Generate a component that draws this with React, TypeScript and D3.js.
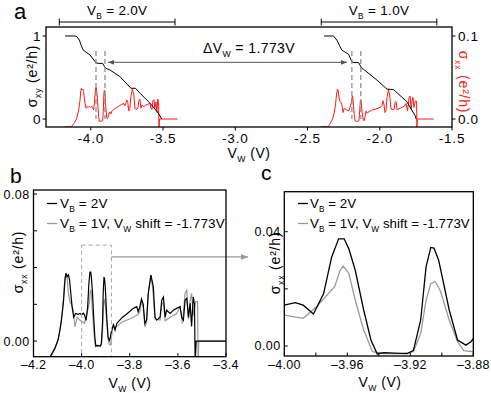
import React from 'react'
import { scaleLinear, line } from 'd3'

// ---- data ----
const shiftVW = 1.773

// sigma_xy, V_B = 2.0V  [V_W, e^2/h]
const sxyVB2: [number, number][] = [
  [-4.178, 1.0], [-4.109, 1.0], [-4.095, 0.99], [-4.079, 0.95], [-4.065, 0.88], [-4.052, 0.83],
  [-4.005, 0.77], [-3.97, 0.69], [-3.958, 0.672], [-3.948, 0.67], [-3.918, 0.67], [-3.905, 0.63],
  [-3.894, 0.61], [-3.867, 0.59], [-3.798, 0.51], [-3.722, 0.37], [-3.69, 0.37], [-3.659, 0.31],
  [-3.59, 0.19], [-3.532, 0.07], [-3.509, 0.0],
]
// sigma_xy, V_B = 1.0V
const sxyVB1: [number, number][] = [
  [-2.385, 1.0], [-2.32, 1.0], [-2.297, 0.95], [-2.263, 0.83], [-2.216, 0.78], [-2.193, 0.69],
  [-2.18, 0.68], [-2.147, 0.68], [-2.124, 0.61], [-2.113, 0.6], [-2.02, 0.47], [-1.95, 0.36],
  [-1.905, 0.355], [-1.813, 0.21], [-1.755, 0.04], [-1.748, 0.0],
]
// sigma_xx, V_B = 2V
const sxxVB2: [number, number][] = [
  [-4.18, -0.0095], [-4.135, -0.0095], [-4.12, -0.006], [-4.111, -0.004], [-4.097, 0.001], [-4.085, 0.01],
  [-4.075, 0.022], [-4.069, 0.034], [-4.065, 0.037], [-4.06, 0.035], [-4.055, 0.036], [-4.05, 0.033],
  [-4.045, 0.026], [-4.04, 0.019], [-4.033, 0.013], [-4.025, 0.015], [-4.015, 0.0145], [-4.007, 0.015],
  [-4.0, 0.0143], [-3.993, 0.0152], [-3.988, 0.0143], [-3.9815, 0.0112], [-3.975, 0.0184], [-3.97, 0.031],
  [-3.9655, 0.0375], [-3.962, 0.0375], [-3.959, 0.034], [-3.955, 0.0266], [-3.9496, 0.0126], [-3.945, 0.0021],
  [-3.941, -0.0028], [-3.937, -0.0023], [-3.93, -0.0025], [-3.922, -0.0027], [-3.918, -0.0015], [-3.9134, 0.0091],
  [-3.91, 0.0277], [-3.907, 0.0345], [-3.905, 0.0343], [-3.902, 0.03], [-3.8985, 0.021], [-3.8953, 0.0126],
  [-3.89, 0.0021], [-3.8847, 0.0003], [-3.8815, 0.0015], [-3.878, 0.004], [-3.875, 0.006], [-3.868, 0.0087],
  [-3.861, 0.006], [-3.854, 0.0096], [-3.848, 0.0105], [-3.83, 0.013], [-3.81, 0.015], [-3.785, 0.0178],
  [-3.771, 0.0187], [-3.765, 0.016], [-3.758, 0.0187], [-3.751, 0.023], [-3.744, 0.02], [-3.737, 0.0096],
  [-3.73, 0.0114], [-3.723, 0.026], [-3.712, 0.0359], [-3.702, 0.0295], [-3.695, 0.013], [-3.688, 0.0114],
  [-3.674, 0.013], [-3.667, 0.0223], [-3.66, 0.024], [-3.653, 0.013], [-3.647, 0.0168], [-3.632, 0.015],
  [-3.619, 0.0168], [-3.605, 0.0178], [-3.591, 0.0187], [-3.584, 0.013], [-3.577, 0.0114], [-3.57, 0.0223],
  [-3.563, 0.0232], [-3.556, 0.013], [-3.549, 0.0205], [-3.543, 0.008], [-3.536, 0.024], [-3.531, 0.02],
  [-3.528, -0.012], [-3.524, 0.0], [-3.4, 0.0],
]
// sigma_xx, V_B = 1V, plotted with V_W shifted by -1.773V
const sxxVB1: [number, number][] = [
  [-4.18, -0.0095], [-4.13, -0.0095], [-4.115, -0.005], [-4.1, 0.0], [-4.09, 0.006], [-4.08, 0.016],
  [-4.072, 0.03], [-4.066, 0.036], [-4.06, 0.034], [-4.055, 0.026], [-4.048, 0.021], [-4.041, 0.02],
  [-4.034, 0.016], [-4.028, 0.0078], [-4.018, 0.013], [-4.008, 0.0115], [-4.0, 0.0108], [-3.988, 0.0097],
  [-3.9794, 0.0138], [-3.971, 0.019], [-3.968, 0.0208], [-3.9645, 0.0266], [-3.9625, 0.028], [-3.959, 0.0254],
  [-3.955, 0.0161], [-3.9496, 0.0056], [-3.944, -0.002], [-3.937, -0.0027], [-3.925, -0.0027], [-3.918, -0.002],
  [-3.9134, 0.0044], [-3.91, 0.016], [-3.907, 0.0219], [-3.904, 0.0225], [-3.9007, 0.019], [-3.8953, 0.0091],
  [-3.89, 0.0015], [-3.886, -0.0016], [-3.88, -0.002], [-3.875, 0.003], [-3.868, 0.0096], [-3.861, 0.007],
  [-3.854, 0.008], [-3.83, 0.0105], [-3.8, 0.012], [-3.785, 0.013], [-3.765, 0.0145], [-3.758, 0.016],
  [-3.751, 0.022], [-3.744, 0.018], [-3.737, 0.0078], [-3.73, 0.01], [-3.723, 0.026], [-3.712, 0.036],
  [-3.704, 0.028], [-3.695, 0.012], [-3.674, 0.0114], [-3.667, 0.02], [-3.66, 0.021], [-3.653, 0.011],
  [-3.632, 0.013], [-3.605, 0.015], [-3.591, 0.0187], [-3.581, 0.0096], [-3.57, 0.026], [-3.563, 0.0277],
  [-3.556, 0.012], [-3.549, 0.022], [-3.543, 0.026], [-3.536, 0.014], [-3.526, 0.0215], [-3.518, 0.0215],
  [-3.516, -0.012], [-3.513, 0.0], [-3.4, 0.0],
]

// ticks
const aTicksX = [-4.0, -3.5, -3.0, -2.5, -2.0, -1.5]
const aTicksY = [0, 1]
const aTicksY2 = [0, 0.1]
const bTicksX = [-4.2, -4.0, -3.8, -3.6, -3.4]
const bTicksY = [0, 0.02, 0.04, 0.06, 0.08]
const bLabelsY = [0, 0.08]
const cTicksX = [-4.0, -3.98, -3.96, -3.94, -3.92, -3.9, -3.88]
const cLabelsX = [-4.0, -3.96, -3.92, -3.88]
const cTicksY = [0, 0.02, 0.04]
const cLabelsY = [0, 0.04]

// peak positions (dashed markers) and bracket extents in panel a
const peaksVB2 = [-3.964, -3.902]
const peaksVB1 = [-2.193, -2.131]
const bracketVB2 = [-4.218, -3.417]
const bracketVB1 = [-2.405, -1.605]

const FONT = "'Liberation Sans', Arial, Helvetica, sans-serif"
const RED = '#ff1a1a'
const GREY = '#9a9a9a'

type Part = string | { s: string }

const Txt = ({ x = 0, y = 0, parts, size = 13, anchor = 'start', fill = '#000', transform, ls = 0 }: any) => {
  const off = size * 0.32
  let inSub = false
  return (
    <text x={x} y={y} fontSize={size} textAnchor={anchor} fill={fill} transform={transform} fontFamily={FONT} letterSpacing={ls}>
      {(parts as Part[]).map((p, i) => {
        if (typeof p === 'string') {
          const dy = inSub ? -off : 0
          inSub = false
          return <tspan key={i} dy={dy}>{p}</tspan>
        }
        const dy = inSub ? 0 : off
        inSub = true
        return <tspan key={i} dy={dy} fontSize={size * 0.62}>{p.s}</tspan>
      })}
    </text>
  )
}

const fmtA = (v: number) => v.toFixed(1)
const fmtDash = (d: number) => (v: number) => (v < 0 ? '\u2013' : '') + Math.abs(v).toFixed(d)

const App = () => {
  // panel a
  const xA = scaleLinear().domain([-4.31, -1.5]).range([46, 452])
  const yA = scaleLinear().domain([-0.096, 1.108]).range([127, 27])
  const yA2 = scaleLinear().domain([-0.0096, 0.1108]).range([127, 27])
  const lineAxy = line<[number, number]>().x(d => xA(d[0])).y(d => yA(d[1]))
  const lineAxx = line<[number, number]>().x(d => xA(d[0])).y(d => yA2(d[1]))
  const lineAxxShift = line<[number, number]>().x(d => xA(d[0] + shiftVW)).y(d => yA2(d[1]))

  // panel b
  const xB = scaleLinear().domain([-4.2, -3.4]).range([33.5, 226])
  const yB = scaleLinear().domain([-0.0085, 0.0822]).range([356.7, 190])
  const lineB = line<[number, number]>().x(d => xB(d[0])).y(d => yB(d[1]))

  // panel c
  const xC = scaleLinear().domain([-4.0, -3.88]).range([284.3, 473.3])
  const yC = scaleLinear().domain([-0.0035, 0.054]).range([356, 191.7])
  const lineC = line<[number, number]>().x(d => xC(d[0])).y(d => yC(d[1]))

  const arrowY = 62.3
  const boxTop = yB(0.0522)
  const boxArrowY = yB(0.0458)

  return (
    <svg width={491} height={393} style={{ position: 'absolute', left: 0, top: 0, background: '#fff' }} fontFamily={FONT}>
      <defs>
        <clipPath id="clipA"><rect x={46} y={27} width={406} height={100} /></clipPath>
        <clipPath id="clipB"><rect x={33.5} y={190} width={192.5} height={166.7} /></clipPath>
        <clipPath id="clipC"><rect x={284.3} y={191.7} width={189} height={164.3} /></clipPath>
        <marker id="ah" viewBox="0 0 10 10" refX={10} refY={5} markerWidth={6} markerHeight={6} orient="auto-start-reverse">
          <path d="M0,1 L10,5 L0,9 z" fill="#555" />
        </marker>
        <marker id="ahg" viewBox="0 0 10 10" refX={10} refY={5} markerWidth={6} markerHeight={6} orient="auto">
          <path d="M0,1 L10,5 L0,9 z" fill={GREY} />
        </marker>
      </defs>

      {/* ===== panel a ===== */}
      <text x={14} y={18.5} fontSize={22}>a</text>

      {/* brackets */}
      {[bracketVB2, bracketVB1].map((br, i) => (
        <g key={i} stroke="#000" strokeWidth={1}>
          <line x1={xA(br[0])} x2={xA(br[1])} y1={22} y2={22} />
          <line x1={xA(br[0])} x2={xA(br[0])} y1={18.5} y2={25.5} />
          <line x1={xA(br[1])} x2={xA(br[1])} y1={18.5} y2={25.5} />
        </g>
      ))}
      <Txt x={xA((bracketVB2[0] + bracketVB2[1]) / 2)} y={15} anchor="middle" size={13.5} ls={0.3} parts={['V', { s: 'B' }, ' = 2.0V']} />
      <Txt x={xA((bracketVB1[0] + bracketVB1[1]) / 2)} y={15} anchor="middle" size={13.5} ls={0.3} parts={['V', { s: 'B' }, ' = 1.0V']} />

      <g clipPath="url(#clipA)">
        <path d={lineAxx(sxxVB2) || ''} fill="none" stroke={RED} strokeWidth={1} />
        <path d={lineAxxShift(sxxVB1) || ''} fill="none" stroke={RED} strokeWidth={1} />
        <path d={lineAxy(sxyVB2) || ''} fill="none" stroke="#000" strokeWidth={1} />
        <path d={lineAxy(sxyVB1) || ''} fill="none" stroke="#000" strokeWidth={1} />
      </g>
      {[...peaksVB2, ...peaksVB1].map((v, i) => (
        <line key={i} x1={xA(v)} x2={xA(v)} y1={yA(0.82)} y2={yA(0)} stroke="#888" strokeWidth={1.2} strokeDasharray="5,3" />
      ))}
      <line x1={108} x2={347} y1={arrowY} y2={arrowY} stroke="#555" strokeWidth={1} markerStart="url(#ah)" markerEnd="url(#ah)" />
      <Txt x={249} y={53} anchor="middle" size={14} ls={0.4} parts={['\u0394V', { s: 'W' }, ' = 1.773V']} />

      <rect x={46} y={27} width={406} height={100} fill="none" stroke="#000" strokeWidth={1.3} />
      {aTicksX.map(v => (
        <g key={v}>
          <line x1={xA(v)} x2={xA(v)} y1={127} y2={130.5} stroke="#000" />
          <text x={xA(v)} y={142.5} fontSize={13.5} textAnchor="middle" letterSpacing={0.8}>{fmtA(v)}</text>
        </g>
      ))}
      {aTicksY.map(v => (
        <g key={v}>
          <line x1={42.5} x2={46} y1={yA(v)} y2={yA(v)} stroke="#000" />
          <text x={40.5} y={yA(v) + 4.8} fontSize={13.5} textAnchor="end">{v}</text>
        </g>
      ))}
      {aTicksY2.map(v => (
        <g key={v}>
          <line x1={452} x2={455.5} y1={yA2(v)} y2={yA2(v)} stroke="#000" />
          <text x={458} y={yA2(v) + 4.8} fontSize={13.5} letterSpacing={0.6}>{v.toFixed(1)}</text>
        </g>
      ))}
      <Txt transform="translate(37,76) rotate(-90)" anchor="middle" size={14} ls={0.8} parts={['\u03c3', { s: 'xy' }, ' (e\u00b2/h)']} />
      <Txt transform="translate(459,82) rotate(90)" anchor="middle" size={14} ls={0.8} fill={RED} parts={['\u03c3', { s: 'xx' }, ' (e\u00b2/h)']} />
      <Txt x={249} y={158} anchor="middle" size={14} ls={0.5} parts={['V', { s: 'W' }, ' (V)']} />

      {/* ===== panel b ===== */}
      <text x={10} y={183} fontSize={21}>b</text>
      <g clipPath="url(#clipB)">
        <path d={lineB(sxxVB1) || ''} fill="none" stroke={GREY} strokeWidth={1.2} />
        <path d={lineB(sxxVB2) || ''} fill="none" stroke="#000" strokeWidth={1.2} />
      </g>
      <rect x={xB(-4.0)} y={boxTop} width={xB(-3.876) - xB(-4.0)} height={356.7 - boxTop} fill="none" stroke="#aaa" strokeWidth={1} strokeDasharray="4,3" />
      <line x1={xB(-3.876)} x2={248} y1={boxArrowY} y2={boxArrowY} stroke={GREY} strokeWidth={1.2} markerEnd="url(#ahg)" />
      <rect x={33.5} y={190} width={192.5} height={166.7} fill="none" stroke="#000" strokeWidth={1.3} />
      {bTicksX.map(v => (
        <g key={v}>
          <line x1={xB(v)} x2={xB(v)} y1={356.7} y2={353} stroke="#000" />
          <text x={xB(v)} y={368.5} fontSize={12.5} textAnchor="middle" letterSpacing={0.3}>{fmtDash(1)(v)}</text>
        </g>
      ))}
      {bTicksY.map(v => (
        <line key={v} x1={33.5} x2={37} y1={yB(v)} y2={yB(v)} stroke="#000" />
      ))}
      {bLabelsY.map(v => (
        <text key={v} x={29.5} y={yB(v) + 4.5} fontSize={12.5} textAnchor="end" letterSpacing={0.4}>{v.toFixed(2)}</text>
      ))}
      <Txt transform="translate(23,262) rotate(-90)" anchor="middle" size={14} ls={0.8} parts={['\u03c3', { s: 'xx' }, ' (e\u00b2/h)']} />
      <Txt x={130} y={388} anchor="middle" size={14} ls={0.5} parts={['V', { s: 'W' }, ' (V)']} />
      <line x1={47} x2={57} y1={203.5} y2={203.5} stroke="#000" strokeWidth={1.3} />
      <Txt x={60} y={208} size={13.5} ls={0.15} parts={['V', { s: 'B' }, ' = 2V']} />
      <line x1={47} x2={57} y1={223.5} y2={223.5} stroke={GREY} strokeWidth={1.3} />
      <Txt x={60} y={228} size={13.5} ls={0.15} parts={['V', { s: 'B' }, ' = 1V, V', { s: 'W' }, ' shift = -1.773V']} />

      {/* ===== panel c ===== */}
      <text x={261} y={180} fontSize={21}>c</text>
      <g clipPath="url(#clipC)">
        <path d={lineC(sxxVB1) || ''} fill="none" stroke={GREY} strokeWidth={1.3} />
        <path d={lineC(sxxVB2) || ''} fill="none" stroke="#000" strokeWidth={1.3} />
      </g>
      <rect x={284.3} y={191.7} width={189} height={164.3} fill="none" stroke="#000" strokeWidth={1.3} />
      {cTicksX.map(v => (
        <line key={v} x1={xC(v)} x2={xC(v)} y1={356} y2={352.5} stroke="#000" />
      ))}
      {cLabelsX.map(v => (
        <text key={v} x={xC(v)} y={368.5} fontSize={12.5} textAnchor="middle" letterSpacing={0.3}>{fmtDash(2)(v)}</text>
      ))}
      {cTicksY.map(v => (
        <line key={v} x1={284.3} x2={287.8} y1={yC(v)} y2={yC(v)} stroke="#000" />
      ))}
      {cLabelsY.map(v => (
        <text key={v} x={280.5} y={yC(v) + 4.5} fontSize={12.5} textAnchor="end" letterSpacing={0.4}>{v.toFixed(2)}</text>
      ))}
      <Txt transform="translate(280,263) rotate(-90)" anchor="middle" size={14} ls={0.8} parts={['\u03c3', { s: 'xx' }, ' (e\u00b2/h)']} />
      <Txt x={380} y={387} anchor="middle" size={14} ls={0.5} parts={['V', { s: 'W' }, ' (V)']} />
      <line x1={298} x2={308} y1={203.5} y2={203.5} stroke="#000" strokeWidth={1.3} />
      <Txt x={310} y={208} size={13.3} ls={0.05} parts={['V', { s: 'B' }, ' = 2V']} />
      <line x1={298} x2={308} y1={223.5} y2={223.5} stroke={GREY} strokeWidth={1.3} />
      <Txt x={310} y={228} size={13.3} ls={0.05} parts={['V', { s: 'B' }, ' = 1V, V', { s: 'W' }, ' shift = -1.773V']} />
    </svg>
  )
}

export default App
